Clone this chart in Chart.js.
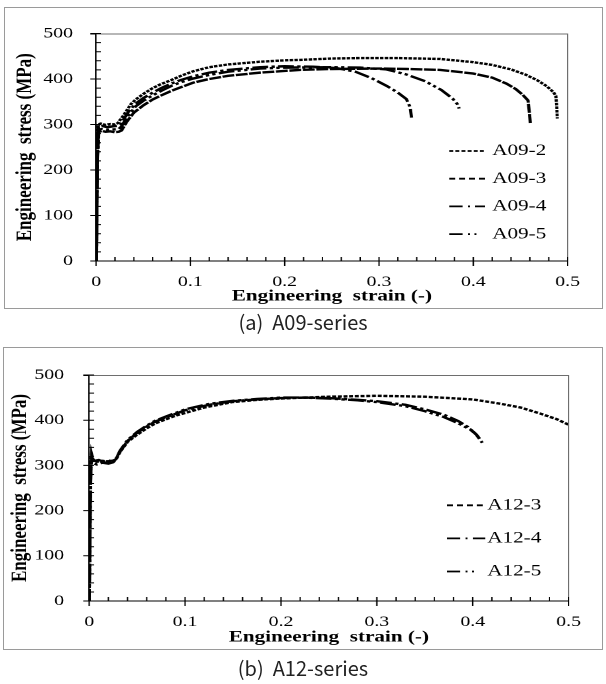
<!DOCTYPE html>
<html><head><meta charset="utf-8">
<script src="https://cdn.jsdelivr.net/npm/chart.js@4/dist/chart.umd.min.js"></script>
<style>
html,body{margin:0;padding:0;background:#fff;width:606px;height:684px;overflow:hidden;position:relative}
.frame{position:absolute;border:1px solid #9a9a9a;box-sizing:border-box}
.wrap{position:absolute;transform-origin:0 0;transform:scaleX(1.32)}
.wrap canvas{display:block}
.cap{position:absolute;left:0;width:606px;text-align:center;font-family:"Noto Sans CJK KR","Noto Sans",sans-serif;font-size:20px;line-height:26px;color:#222;white-space:pre}
</style></head>
<body>
<div class="frame" style="left:4px;top:7px;width:599px;height:302px"></div>
<div class="wrap" style="left:4px;top:7px;width:453.8px;height:302px"><canvas id="ca"></canvas></div>
<div class="cap" style="top:309px">(a)  A09-series</div>
<div class="frame" style="left:3px;top:347px;width:600px;height:303px"></div>
<div class="wrap" style="left:3px;top:347px;width:454.5px;height:303px"><canvas id="cb"></canvas></div>
<div class="cap" style="top:655px">(b)  A12-series</div>
<script>
// ---------- data ----------
const xTickValues = [0, 0.1, 0.2, 0.3, 0.4, 0.5];
const xTickLabels = ['0', '0.1', '0.2', '0.3', '0.4', '0.5'];
const yTickValues = [0, 100, 200, 300, 400, 500];
const yTickLabels = ['0', '100', '200', '300', '400', '500'];

const labelsA09 = ['A09-2', 'A09-3', 'A09-4', 'A09-5'];
const strainA09_2 = [0, 0.0008, 0.0016, 0.0022, 0.005, 0.01, 0.015, 0.02, 0.023, 0.0254, 0.029, 0.0325, 0.037, 0.042, 0.05, 0.06, 0.068, 0.08, 0.09, 0.103, 0.12, 0.14, 0.174, 0.2, 0.216, 0.25, 0.28, 0.32, 0.365, 0.4, 0.42, 0.44, 0.455, 0.468, 0.478, 0.485, 0.4875, 0.4885, 0.489];
const stressA09_2 = [0, 120, 250, 300, 302, 299, 301, 300, 303, 310, 320, 331, 345, 355, 367, 380, 388, 398, 407, 417, 426, 432, 438, 441, 442, 445, 446, 446, 444, 437, 431, 421, 410, 397, 384, 371, 363, 340, 313];
const strainA09_3 = [0, 0.0008, 0.0016, 0.0025, 0.006, 0.01, 0.015, 0.02, 0.024, 0.027, 0.0325, 0.04, 0.05, 0.06, 0.068, 0.08, 0.09, 0.103, 0.12, 0.14, 0.174, 0.216, 0.25, 0.3, 0.33, 0.365, 0.4, 0.42, 0.435, 0.445, 0.452, 0.458, 0.4595, 0.4605];
const stressA09_3 = [0, 110, 230, 283, 286, 284, 285, 283, 284, 287, 306, 326, 342, 355, 363, 374, 382, 392, 400, 407, 414, 420, 422, 423, 422, 420, 412, 403, 390, 378, 366, 353, 325, 302];
const strainA09_4 = [0, 0.0008, 0.0016, 0.0023, 0.006, 0.012, 0.018, 0.023, 0.026, 0.03, 0.035, 0.042, 0.05, 0.06, 0.07, 0.08, 0.09, 0.103, 0.12, 0.14, 0.174, 0.2, 0.23, 0.255, 0.275, 0.292, 0.308, 0.32, 0.329, 0.333, 0.3345];
const stressA09_4 = [0, 115, 240, 294, 297, 294, 296, 297, 301, 314, 330, 346, 358, 370, 381, 390, 398, 406, 414, 420, 426, 428, 427, 424, 416, 402, 385, 370, 356, 338, 315];
const strainA09_5 = [0, 0.0008, 0.0016, 0.0024, 0.006, 0.012, 0.018, 0.024, 0.027, 0.031, 0.036, 0.042, 0.05, 0.06, 0.07, 0.08, 0.09, 0.103, 0.12, 0.14, 0.174, 0.2, 0.25, 0.28, 0.308, 0.329, 0.349, 0.366, 0.378, 0.383, 0.385];
const stressA09_5 = [0, 110, 235, 288, 290, 288, 289, 290, 296, 310, 325, 340, 352, 364, 375, 385, 393, 401, 409, 416, 423, 425, 426, 425, 421, 410, 395, 376, 357, 345, 335];

const labelsA12 = ['A12-3', 'A12-4', 'A12-5'];
const strainA12_3 = [0, 0.0006, 0.0012, 0.0018, 0.0025, 0.004, 0.008, 0.014, 0.02, 0.026, 0.029, 0.033, 0.04, 0.05, 0.06, 0.069, 0.08, 0.09, 0.1, 0.12, 0.149, 0.175, 0.2, 0.25, 0.3, 0.35, 0.4, 0.43, 0.45, 0.47, 0.488, 0.5];
const stressA12_3 = [0, 100, 220, 300, 325, 312, 308, 310, 309, 311, 318, 332, 352, 368, 382, 393, 402, 410, 416, 428, 440, 445, 448, 452, 454, 452, 446, 436, 428, 415, 402, 390];
const strainA12_4 = [0, 0.0006, 0.0012, 0.0018, 0.0025, 0.004, 0.008, 0.014, 0.02, 0.025, 0.028, 0.032, 0.04, 0.05, 0.06, 0.069, 0.08, 0.1, 0.125, 0.15, 0.175, 0.2, 0.225, 0.25, 0.28, 0.3, 0.33, 0.35, 0.37, 0.385, 0.395, 0.403, 0.41];
const stressA12_4 = [0, 100, 215, 295, 318, 305, 302, 306, 304, 307, 313, 330, 354, 372, 386, 397, 406, 422, 434, 442, 446, 449, 450, 449, 445, 442, 434, 424, 412, 398, 385, 370, 350];
const strainA12_5 = [0, 0.0006, 0.0012, 0.0018, 0.0025, 0.005, 0.01, 0.015, 0.02, 0.025, 0.028, 0.032, 0.04, 0.05, 0.06, 0.069, 0.08, 0.1, 0.125, 0.15, 0.175, 0.2, 0.225, 0.25, 0.28, 0.3, 0.33, 0.35, 0.37, 0.385, 0.397, 0.404, 0.408];
const stressA12_5 = [0, 105, 225, 300, 320, 310, 312, 308, 311, 309, 314, 332, 356, 374, 388, 399, 408, 424, 436, 443, 447, 450, 450, 448, 444, 440, 431, 420, 407, 393, 380, 368, 357];

// ---------- helpers ----------
const zip = (xs, ys) => xs.map((x, i) => ({x: x, y: ys[i]}));
const STYLES = {
  dot:        {line: [2.6, 1.0],                   key: [3, 1.6]},
  dash:       {line: [9, 1.2],                     key: [4.5, 3]},
  fineDash:   {line: [3, 1.3],                     key: [4.5, 3]},
  dashDot:    {line: [12, 2.5, 2.5, 2.5],           key: [10, 4, 1.5, 4]},
  dashDotDot: {line: [12, 2.5, 2.5, 2.5, 2.5, 2.5], key: [10, 4, 1.5, 3.5, 1.5, 40]}
};
function ds(label, xs, ys, style) {
  return {label, data: zip(xs, ys), showLine: true, borderColor: '#000', backgroundColor: '#000',
          borderWidth: 2.4, borderDash: STYLES[style].line, keyDash: STYLES[style].key,
          pointRadius: 0, tension: 0, fill: false};
}
const SERIF = '"Liberation Serif", "Times New Roman", serif';

const axisDeco = {
  id: 'axisDeco',
  afterDraw(chart) {
    const {ctx, chartArea: a, scales: {x, y}} = chart;
    ctx.save();
    ctx.lineWidth = 1;
    ctx.strokeStyle = '#6e6e6e';
    ctx.beginPath();
    ctx.moveTo(a.left, a.top + 0.5); ctx.lineTo(a.right, a.top + 0.5); ctx.lineTo(a.right, a.bottom);
    ctx.stroke();
    ctx.strokeStyle = '#000';
    ctx.beginPath();
    ctx.moveTo(a.left - 4.5, a.top + 0.5); ctx.lineTo(a.left, a.top + 0.5);
    for (let v = 0; v <= 500; v += 20) {
      const py = y.getPixelForValue(v);
      if (yTickValues.includes(v)) { ctx.moveTo(a.left - 4.5, py); ctx.lineTo(a.left, py); }
      ctx.moveTo(a.left, py); ctx.lineTo(a.left + 3.8, py);
    }
    for (let k = 0; k <= 25; k++) {
      const v = k * 0.02;
      const px = x.getPixelForValue(v);
      if (k % 5 === 0) { ctx.moveTo(px, a.bottom - 4); ctx.lineTo(px, a.bottom + 5); }
      else { ctx.moveTo(px, a.bottom - 4); ctx.lineTo(px, a.bottom); }
    }
    ctx.stroke();
    ctx.restore();
  }
};

const legendBox = {
  id: 'legendBox',
  afterDraw(chart, args, o) {
    const ctx = chart.ctx;
    ctx.save();
    ctx.font = '16px ' + SERIF;
    ctx.textBaseline = 'middle';
    ctx.textAlign = 'left';
    ctx.fillStyle = '#000';
    chart.data.datasets.forEach((d, i) => {
      const yy = o.y0 + i * o.dy;
      ctx.beginPath();
      ctx.setLineDash(d.keyDash || d.borderDash || []);
      ctx.lineWidth = 1.8;
      ctx.strokeStyle = '#000';
      ctx.moveTo(o.x1, yy); ctx.lineTo(o.x2, yy);
      ctx.stroke();
      ctx.setLineDash([]);
      ctx.fillText(d.label, o.tx, yy);
    });
    ctx.restore();
  }
};

function makeChart(id, datasets, g) {
  return new Chart(document.getElementById(id), {
    type: 'scatter',
    data: {datasets},
    options: {
      responsive: true, maintainAspectRatio: false, animation: false, devicePixelRatio: 2,
      layout: {padding: {left: 0, top: g.top, right: g.right, bottom: 0}},
      plugins: {legend: {display: false}, tooltip: {enabled: false}, legendBox: g.legend},
      scales: {
        x: {
          type: 'linear', min: 0, max: 0.5,
          afterFit(s) { s.height = g.xh; },
          afterBuildTicks(s) { s.ticks = xTickValues.map(v => ({value: v})); },
          ticks: {callback: (v, i) => xTickLabels[i], padding: 12, color: '#000',
                  font: {family: SERIF, size: 15}, maxRotation: 0, autoSkip: false},
          grid: {display: false, drawTicks: false},
          border: {display: true, color: '#000', width: 1},
          title: {display: true, text: 'Engineering  strain (-)', color: '#000',
                  font: {family: SERIF, size: 16, weight: 'bold'}, padding: {top: 0, bottom: 3}}
        },
        y: {
          type: 'linear', min: 0, max: 500,
          afterFit(s) { s.width = g.yw; },
          afterBuildTicks(s) { s.ticks = yTickValues.map(v => ({value: v})); },
          ticks: {callback: (v, i) => yTickLabels[i], padding: g.ypad, color: '#000',
                  font: {family: SERIF, size: 15}},
          grid: {display: false, drawTicks: false},
          border: {display: true, color: '#000', width: 1},
          title: {display: true, text: 'Engineering  stress (MPa)', color: '#000',
                  font: {family: SERIF, size: 17, weight: 'bold'}, padding: {top: g.ytp, bottom: 0}}
        }
      }
    },
    plugins: [axisDeco, legendBox]
  });
}

makeChart('ca', [
  ds(labelsA09[0], strainA09_2, stressA09_2, 'dot'),
  ds(labelsA09[1], strainA09_3, stressA09_3, 'dash'),
  ds(labelsA09[2], strainA09_4, stressA09_4, 'dashDot'),
  ds(labelsA09[3], strainA09_5, stressA09_5, 'dashDotDot')
], {top: 21, right: 27.3, xh: 48, yw: 69.7, ypad: 17.5, ytp: 6,
    legend: {x1: 337, x2: 364, tx: 369.5, y0: 144, dy: 27.7}});

makeChart('cb', [
  ds(labelsA12[0], strainA12_3, stressA12_3, 'fineDash'),
  ds(labelsA12[1], strainA12_4, stressA12_4, 'dashDot'),
  ds(labelsA12[2], strainA12_5, stressA12_5, 'dashDotDot')
], {top: 19, right: 26.5, xh: 49, yw: 65.2, ypad: 19, ytp: 3,
    legend: {x1: 336, x2: 365, tx: 366.5, y0: 158.3, dy: 33.1}});
</script>
</body></html>
